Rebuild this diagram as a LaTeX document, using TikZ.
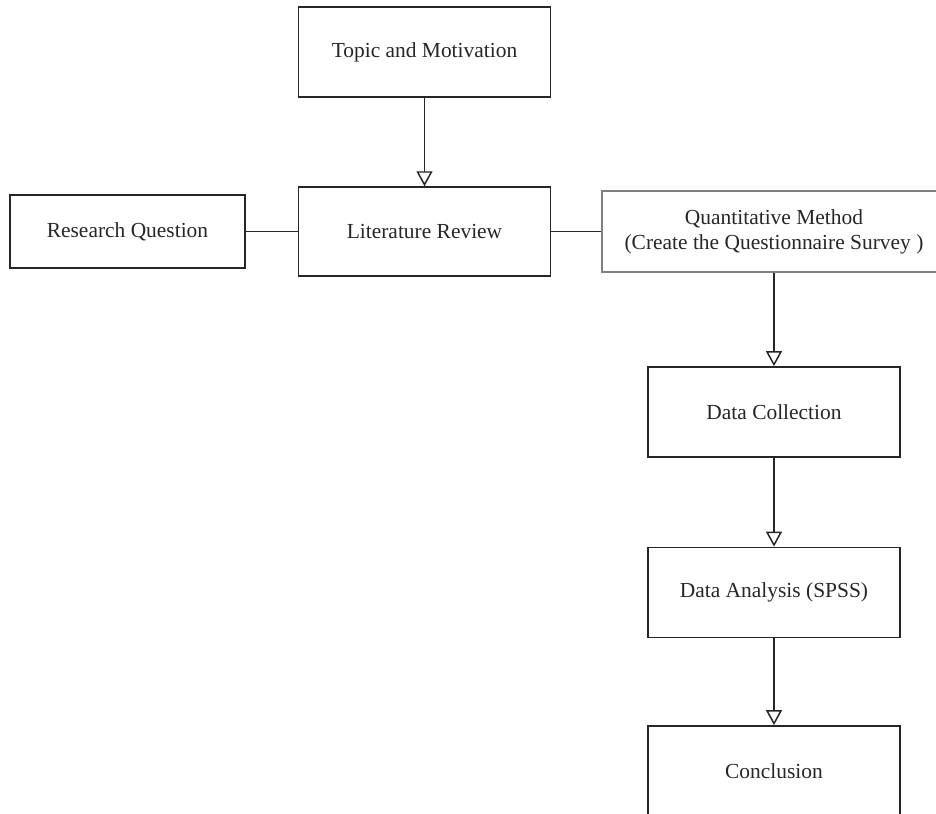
\documentclass[tikz,border=0pt]{standalone}
\usepackage{fontspec}
\setmainfont{Liberation Serif}
\usetikzlibrary{positioning,arrows.meta}
\definecolor{inkgray}{RGB}{38,38,38}
\definecolor{boxgray}{RGB}{128,128,128}

\tikzset{
  stepbox/.style={rectangle, draw=inkgray, line width=0.85pt, minimum width=5.04cm,
    minimum height=1.8cm, align=center, inner sep=0pt, text=inkgray,
    font=\fontsize{12.2}{14.2}\selectfont},
  flow/.style={draw=inkgray, line width=0.85pt, -{Triangle[open, length=0.3cm, width=0.32cm]}},
  link/.style={draw=inkgray, line width=0.85pt}
}

\begin{document}
\begin{tikzpicture}
    \useasboundingbox (0,0) rectangle (18.72,-16.28);

    % top row
    \node[stepbox] (topic) at (8.49,-1.04) {Topic and Motivation};
    \node[stepbox, minimum height=1.78cm] (litreview) at (8.49,-4.63) {Literature Review};
    \node[stepbox, minimum width=4.7cm, minimum height=1.46cm] (question) at (2.55,-4.63) {Research Question};
    \node[stepbox, draw=boxgray, line width=1.3pt, minimum width=6.88cm, minimum height=1.62cm]
      (quant) at (15.48,-4.63) {Quantitative Method\\(Create the Questionnaire Survey )};

    % right column
    \node[stepbox, below=1.86cm of quant] (collect) {Data Collection};
    \node[stepbox, below=1.78cm of collect] (analysis) {Data Analysis (SPSS)};
    \node[stepbox, below=1.74cm of analysis] (conclusion) {Conclusion};

    \draw[flow] (topic) -- (litreview);
    \draw[link] (question) -- (litreview);
    \draw[link] (litreview) -- (quant);
    \draw[flow] (quant) -- (collect);
    \draw[flow] (collect) -- (analysis);
    \draw[flow] (analysis) -- (conclusion);
\end{tikzpicture}
\end{document}
